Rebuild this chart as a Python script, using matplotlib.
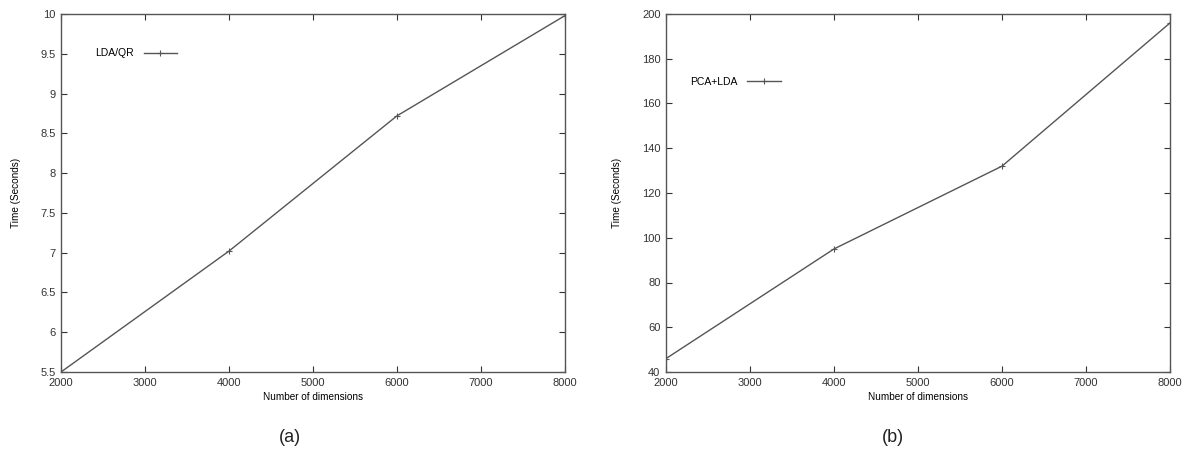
import matplotlib.pyplot as plt

plt.rcParams['font.family'] = ['Liberation Sans', 'DejaVu Sans']

dims = [2000, 4000, 6000, 8000]
lda_qr = [5.5, 7.02, 8.72, 9.98]
pca_lda = [46, 95, 132, 196]

lda_yticks = [5.5, 6, 6.5, 7, 7.5, 8, 8.5, 9, 9.5, 10]
pca_yticks = [40, 60, 80, 100, 120, 140, 160, 180, 200]
xticks = [2000, 3000, 4000, 5000, 6000, 7000, 8000]

fig = plt.figure(figsize=(11.86, 4.57), dpi=100)
W, H = 1186, 457
ax_a = fig.add_axes([61 / W, 1 - 372 / H, 504 / W, 358 / H])
ax_b = fig.add_axes([666 / W, 1 - 372 / H, 504 / W, 358 / H])

line_col = '#555555'


def style(ax, yticks, ylim):
    ax.set_xlim(2000, 8000)
    ax.set_ylim(*ylim)
    ax.set_xticks(xticks)
    ax.set_yticks(yticks)
    ax.set_yticklabels([f'{v:g}' for v in yticks])
    ax.tick_params(direction='in', length=4, width=0.8, colors='#333333',
                   labelsize=8, top=True, right=True, pad=4)
    for s in ax.spines.values():
        s.set_color('#555555')
        s.set_linewidth(1.0)
    ax.set_xlabel('Number of dimensions', fontsize=7.2, labelpad=3)
    ax.set_ylabel('Time (Seconds)', fontsize=7.2, labelpad=14)


ax_a.plot(dims, lda_qr, color=line_col, lw=1.0, marker='+', ms=5,
          mew=0.8, label='LDA/QR')
style(ax_a, lda_yticks, (5.5, 10))
ax_a.legend(loc='upper left', bbox_to_anchor=(0.05, 0.93), frameon=False,
            markerfirst=False, fontsize=7.5, handlelength=3.2,
            handletextpad=0.9)

ax_b.plot(dims, pca_lda, color=line_col, lw=1.0, marker='+', ms=5,
          mew=0.8, label='PCA+LDA')
style(ax_b, pca_yticks, (40, 200))
ax_b.legend(loc='upper left', bbox_to_anchor=(0.03, 0.85), frameon=False,
            markerfirst=False, fontsize=7.5, handlelength=3.2,
            handletextpad=0.9)

fig.text(290 / W, 1 - 437 / H, '(a)', fontsize=13, ha='center', va='center',
         color='#222222')
fig.text(893 / W, 1 - 437 / H, '(b)', fontsize=13, ha='center', va='center',
         color='#222222')

fig.savefig('out.png', dpi=100)
